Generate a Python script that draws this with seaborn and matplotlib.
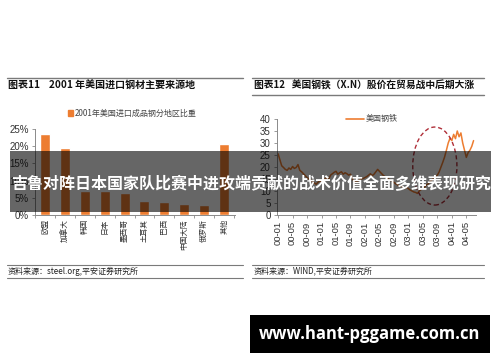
import matplotlib
matplotlib.use("Agg")
import matplotlib.pyplot as plt
import seaborn as sns
from matplotlib.patches import Rectangle, Ellipse
from matplotlib.lines import Line2D

# ---------------- data ----------------
regions = ["欧盟", "加拿大", "韩国", "日本", "墨西哥", "土耳其", "巴西", "中国大陆", "俄罗斯", "其他"]
shares = [23.5, 19.5, 7.0, 7.0, 6.5, 4.0, 3.7, 3.2, 2.8, 20.6]
share_ticks = [0, 5, 10, 15, 20, 25]
share_tick_labels = ["0%", "5%", "10%", "15%", "20%", "25%"]

month_tick_pos = [0, 4, 8, 12, 16, 20, 24, 28, 32, 36, 40, 44, 48, 52]
month_labels = ["00-01", "00-05", "00-09", "01-01", "01-05", "01-09", "02-01",
                "02-05", "02-09", "03-01", "03-05", "03-09", "04-01", "04-05"]
price_ticks = [0, 5, 10, 15, 20, 25, 30, 35, 40]
# half-month observations of US Steel (X.N) price, from 2000-01
price = [25.5, 23.0, 20.5, 19.8, 19.0, 18.6, 19.6, 19.0, 20.2, 19.4,
         19.8, 21.0, 18.6, 18.0, 17.2, 16.4, 15.6, 15.0, 14.6, 13.8,
         13.4, 12.8, 13.6, 14.2, 13.8, 14.6, 15.2, 15.6, 15.0, 16.6,
         17.2, 17.8, 18.2, 17.0, 17.6, 18.0, 17.0, 17.6, 17.2, 16.6,
         17.0, 15.2, 14.0, 13.6, 14.2, 14.6, 15.0, 15.2, 15.6, 16.0,
         16.6, 17.2, 16.4, 17.0, 18.0, 19.0, 18.2, 17.4, 16.6, 16.0,
         15.6, 15.0, 14.6, 14.0, 13.6, 13.0, 12.6, 12.0, 12.2, 11.6,
         11.0, 11.6, 11.0, 10.4, 10.0, 9.6, 9.4, 9.0, 10.0, 10.6,
         11.0, 11.6, 12.6, 13.0, 14.0, 14.6, 15.4, 16.0, 16.6, 18.0,
         20.0, 22.0, 24.2, 27.0, 30.0, 32.0, 31.0, 33.6, 31.8, 35.0,
         32.6, 34.2, 30.0, 27.0, 24.0, 26.0, 27.0, 28.6, 31.0]
months = [i * 0.5 for i in range(len(price))]

banner_text = "吉鲁对阵日本国家队比赛中进攻端贡献的战术价值全面多维表现研究"
url_text = "www.hant-pggame.com.cn"

# ---------------- style ----------------
sns.set_theme(style="white")
plt.rcParams["font.family"] = ["Liberation Sans", "Noto Sans CJK SC", "DejaVu Sans"]
CJK = ["Noto Sans CJK SC", "DejaVu Sans"]
ORANGE = "#ED7D31"
AXC = "#8a8a8a"

W, H = 500, 362
fig = plt.figure(figsize=(W / 100, H / 100), dpi=100)
fig.patch.set_facecolor("white")


def px_axes(x0, y0, x1, y1, **kw):
    return fig.add_axes([x0 / W, 1 - y1 / H, (x1 - x0) / W, (y1 - y0) / H], **kw)


# ---------------- left: bar chart ----------------
ax1 = px_axes(35, 129, 235, 215)
sns.barplot(x=regions, y=shares, color=ORANGE, saturation=1, width=0.5, ax=ax1)
ax1.set_xlim(-0.45, 9.55)
ax1.set_ylim(0, 25)
ax1.set_yticks(share_ticks)
ax1.set_yticklabels(share_tick_labels, fontsize=7, color="#333333")
ax1.set_xticks(range(len(regions)))
ax1.set_xticklabels(regions, rotation=90, fontsize=5.5, family=CJK, color="#333333")
ax1.set_xticks([i + 0.5 for i in range(-1, len(regions))], minor=True)
ax1.tick_params(axis="x", which="major", length=0, pad=3)
ax1.tick_params(axis="x", which="minor", length=2.5, color=AXC, width=0.6, direction="out", bottom=True)
ax1.tick_params(axis="y", length=2.5, color=AXC, width=0.6, direction="out", left=True, pad=2)
ax1.set_xlabel("")
ax1.set_ylabel("")
for s in ["top", "right"]:
    ax1.spines[s].set_visible(False)
for s in ["left", "bottom"]:
    ax1.spines[s].set_color(AXC)
    ax1.spines[s].set_linewidth(0.7)
ax1.patch.set_alpha(0)
h1 = [Rectangle((0, 0), 1, 1, color=ORANGE)]
ax1.legend(h1, ["2001年美国进口成品钢分地区比重"], loc="center",
           bbox_to_anchor=(132 / W, 1 - 113 / H), bbox_transform=fig.transFigure,
           frameon=False, prop={"family": CJK, "size": 5.8}, handlelength=0.7,
           handleheight=0.7, handletextpad=0.1, labelcolor="#444444")

# ---------------- right: line chart ----------------
ax2 = px_axes(277, 119, 476, 215)
sns.lineplot(x=months, y=price, color=ORANGE, lw=1.1, ax=ax2, legend=False)
ax2.set_xlim(-0.3, -0.3 + 199 / 3.62)
ax2.set_ylim(0, 40)
ax2.set_yticks(price_ticks)
ax2.set_yticklabels([str(v) for v in price_ticks], fontsize=7, color="#333333")
ax2.set_xticks(month_tick_pos)
ax2.set_xticklabels(month_labels, rotation=90, fontsize=6.8, color="#333333")
ax2.tick_params(axis="x", length=2.5, color=AXC, width=0.6, direction="out", bottom=True, pad=2)
ax2.tick_params(axis="y", length=2.5, color=AXC, width=0.6, direction="out", left=True, pad=2)
ax2.set_xlabel("")
ax2.set_ylabel("")
for s in ["top", "right"]:
    ax2.spines[s].set_visible(False)
for s in ["left", "bottom"]:
    ax2.spines[s].set_color(AXC)
    ax2.spines[s].set_linewidth(0.7)
ax2.patch.set_alpha(0)
ax2.add_patch(Ellipse((43.3, 20.4), 12.2, 32.5, fill=False, ec="#B0303A",
                      lw=1.0, ls=(0, (3, 2)), zorder=5))
h2 = [Line2D([0], [0], color=ORANGE, lw=1.2)]
ax2.legend(h2, ["美国钢铁"], loc="center",
           bbox_to_anchor=(372 / W, 1 - 119 / H), bbox_transform=fig.transFigure,
           frameon=False, prop={"family": CJK, "size": 5.8}, handlelength=2.2,
           handletextpad=0.3, labelcolor="#444444")

# ---------------- overlay: page decorations ----------------
ov = fig.add_axes([0, 0, 1, 1], zorder=10)
ov.set_xlim(0, W)
ov.set_ylim(H, 0)
ov.axis("off")
ov.patch.set_alpha(0)

LC = "#7a7a7a"
for (xa, xb) in [(7, 243), (252, 484)]:
    ov.plot([xa, xb], [78, 78], color=LC, lw=1.0)
    ov.plot([xa, xb], [265, 265], color=LC, lw=0.8)
    ov.plot([xa, xb], [277.5, 277.5], color=LC, lw=0.8)
ov.plot([252, 484], [94.5, 94.5], color=LC, lw=1.0)

ov.text(8, 86, "图表11    2001 年美国进口钢材主要来源地", fontsize=7.2, fontweight="bold",
        family=CJK, color="#111111", va="center", ha="left")
ov.text(254, 86, "图表12   美国钢铁（X.N）股价在贸易战中后期大涨", fontsize=7.0, fontweight="bold",
        family=CJK, color="#111111", va="center", ha="left")
ov.text(8, 271, "资料来源：steel.org,平安证券研究所", fontsize=5.8, style="italic",
        family=CJK, color="#222222", va="center", ha="left")
ov.text(254, 271, "资料来源：WIND,平安证券研究所", fontsize=5.8, style="italic",
        family=CJK, color="#222222", va="center", ha="left")

ov.add_patch(Rectangle((10, 151), 481, 61, color="black", alpha=0.6, lw=0))
ov.text(251, 184, banner_text, fontsize=11.5, fontweight="bold", family=CJK,
        color="white", va="center", ha="center")

ov.add_patch(Rectangle((250, 315), 240, 38, color="black", lw=0))
ov.text(370, 334, url_text, fontsize=12, fontweight="bold", family=["Open Sans", "DejaVu Sans"],
        color="white", va="center", ha="center")

fig.savefig("out.png", dpi=100)
